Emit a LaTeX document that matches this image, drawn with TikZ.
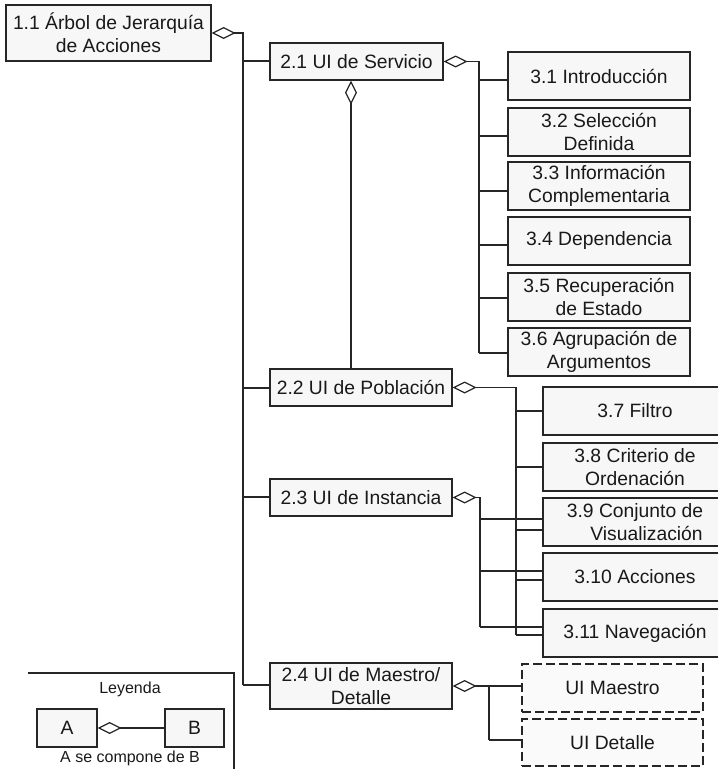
\documentclass[tikz,border=0pt]{standalone}
\usepackage{fontspec}
\setmainfont{Liberation Sans}
\usetikzlibrary{arrows.meta}
\begin{document}
\begin{tikzpicture}[x=1pt,y=-1pt,
  box/.style={draw=black!85, line width=1.2pt, fill=black!3, align=center, inner sep=0pt,
    font=\fontsize{19.3}{23}\selectfont, text=black!90},
  dbox/.style={box, dash pattern=on 9pt off 4pt, line width=2.6pt, fill=black!2},
  con/.style={draw=black!85, line width=1.2pt},
  agg/.style={con, arrows={Diamond[open,length=24pt,width=12pt]-}},
  legtext/.style={font=\fontsize{16}{19}\selectfont, text=black!90, inner sep=0pt}
]
\useasboundingbox (0,0) rectangle (718,769);

% level 1 and 2
\node[box, minimum width=205pt, minimum height=56pt] (n11) at (108.5,33) {1.1 Árbol de Jerarquía\\de Acciones};
\node[box, minimum width=173pt, minimum height=37pt] (n21) at (356.5,61.5) {2.1 UI de Servicio};
\node[box, minimum width=182pt, minimum height=37pt] (n22) at (361,387.5) {2.2 UI de Población};
\node[box, minimum width=182pt, minimum height=37pt] (n23) at (361,497.5) {2.3 UI de Instancia};
\node[box, minimum width=182pt, minimum height=46pt] (n24) at (361,686) {2.4 UI de Maestro/\\Detalle};

% level 3 (upper)
\node[box, minimum width=182pt, minimum height=48pt] (n31) at (599,76) {3.1 Introducción};
\node[box, minimum width=182pt, minimum height=48pt] (n32) at (599,132) {3.2 Selección\\Definida};
\node[box, minimum width=182pt, minimum height=48pt] (n33) at (599,186) {3.3 Información\\Complementaria};
\node[box, minimum width=182pt, minimum height=48pt] (n34) at (599,241) {3.4 Dependencia};
\node[box, minimum width=182pt, minimum height=48pt] (n35) at (599,297) {3.5 Recuperación\\de Estado};
\node[box, minimum width=182pt, minimum height=48pt] (n36) at (599,352) {3.6 Agrupación de\\Argumentos};

% level 3 (lower)
\node[box, minimum width=184pt, minimum height=48pt] (n37) at (635,411) {3.7 Filtro};
\node[box, minimum width=184pt, minimum height=48pt] (n38) at (635,467) {3.8 Criterio de\\Ordenación};
\node[box, minimum width=184pt, minimum height=48pt] (n39) at (635,522) {3.9 Conjunto de\\\hspace*{1.2em}Visualización};
\node[box, minimum width=184pt, minimum height=48pt] (n310) at (635,577) {3.10 Acciones};
\node[box, minimum width=184pt, minimum height=48pt] (n311) at (635,633) {3.11 Navegación};

% master/detail
\node[dbox, minimum width=181pt, minimum height=48pt] (uim) at (612.5,688) {UI Maestro};
\node[dbox, minimum width=181pt, minimum height=47pt] (uid) at (612.5,742.5) {UI Detalle};

% buses
\coordinate (bus1) at (243,0);
\coordinate (bus21) at (479,0);
\coordinate (bus22) at (516,0);
\coordinate (bus23) at (480,0);
\coordinate (bus24) at (489,0);
\coordinate (vx) at (351,0);

% 1.1 composition
\draw[agg] (n11.east) -- (n11.east -| bus1) -- (bus1 |- 0,685);
\draw[con] (bus1 |- 0,61) -- (n21.west |- 0,61);
\draw[con] (bus1 |- 0,388) -- (n22.west |- 0,388);
\draw[con] (bus1 |- 0,497) -- (n23.west |- 0,497);
\draw[con] (bus1 |- 0,685) -- (n24.west |- 0,685);

% 2.1 composition
\draw[agg] (n21.east) -- (n21.east -| bus21) -- (bus21 |- 0,353);
\foreach \n/\y in {31/80,32/136,33/191,34/245,35/298,36/353}
  \draw[con] (bus21 |- 0,\y) -- (n\n.west |- 0,\y);

% 2.1 composed of 2.2
\draw[agg] (n21.south -| vx) -- (n22.north -| vx);

% 2.2 composition
\draw[agg] (n22.east) -- (n22.east -| bus22) -- (bus22 |- 0,635);
\foreach \n/\y in {37/411,38/467,39/530,310/580,311/635}
  \draw[con] (bus22 |- 0,\y) -- (n\n.west |- 0,\y);

% 2.3 composition
\draw[agg] (n23.east) -- (n23.east -| bus23) -- (bus23 |- 0,627);
\foreach \n/\y in {39/519,310/571,311/627}
  \draw[con] (bus23 |- 0,\y) -- (n\n.west |- 0,\y);

% 2.4 composition
\draw[agg] (n24.east) -- (n24.east -| bus24) -- (bus24 |- 0,740);
\draw[con] (bus24 |- 0,686) -- (uim.west |- 0,686);
\draw[con] (bus24 |- 0,740) -- (uid.west |- 0,740);

% legend
\draw[con] (28,673) -- (234,673) -- (234,769);
\node[legtext] (ley) at (130,689) {Leyenda};
\node[box, minimum width=60pt, minimum height=38pt] (la) at (67,728) {A};
\node[box, minimum width=59pt, minimum height=38pt] (lb) at (194.5,728) {B};
\draw[agg] (la.east) -- (lb.west);
\node[legtext] (cap) at (130,758) {A se compone de B};
\end{tikzpicture}
\end{document}
